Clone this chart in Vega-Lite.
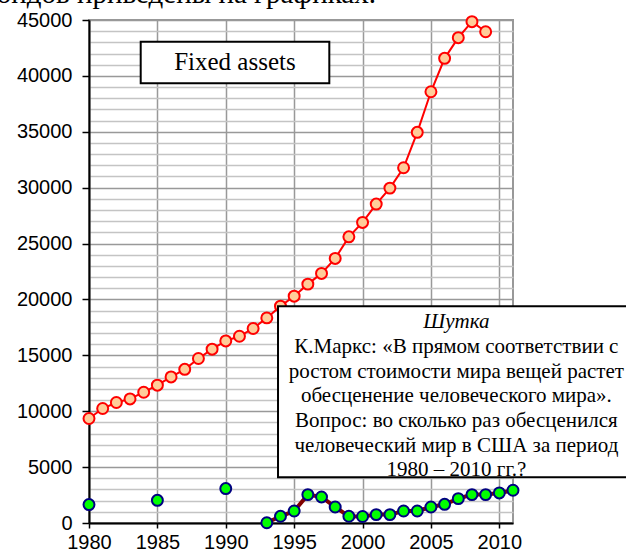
{
  "$schema": "https://vega.github.io/schema/vega-lite/v6.json",
  "autosize": {"type": "none"},
  "width": 424,
  "height": 503,
  "padding": {"left": 89, "top": 20, "right": 113, "bottom": 35},
  "background": "white",
  "view": {"stroke": "#999999", "strokeWidth": 2},
  "config": {"axis": {"labelOverlap": false}},
  "title": {
    "text": "фондов приведены на графиках.",
    "anchor": "start",
    "frame": "group",
    "font": "Liberation Serif",
    "fontSize": 29,
    "fontWeight": "normal",
    "color": "black",
    "baseline": "alphabetic",
    "dx": -111,
    "offset": -22
  },
  "datasets": {
    "series": [
      {"year": 1980, "value": 9350, "series": "Fixed assets"},
      {"year": 1981, "value": 10240, "series": "Fixed assets"},
      {"year": 1982, "value": 10780, "series": "Fixed assets"},
      {"year": 1983, "value": 11100, "series": "Fixed assets"},
      {"year": 1984, "value": 11700, "series": "Fixed assets"},
      {"year": 1985, "value": 12330, "series": "Fixed assets"},
      {"year": 1986, "value": 13070, "series": "Fixed assets"},
      {"year": 1987, "value": 13750, "series": "Fixed assets"},
      {"year": 1988, "value": 14715, "series": "Fixed assets"},
      {"year": 1989, "value": 15550, "series": "Fixed assets"},
      {"year": 1990, "value": 16290, "series": "Fixed assets"},
      {"year": 1991, "value": 16710, "series": "Fixed assets"},
      {"year": 1992, "value": 17400, "series": "Fixed assets"},
      {"year": 1993, "value": 18350, "series": "Fixed assets"},
      {"year": 1994, "value": 19400, "series": "Fixed assets"},
      {"year": 1995, "value": 20290, "series": "Fixed assets"},
      {"year": 1996, "value": 21370, "series": "Fixed assets"},
      {"year": 1997, "value": 22330, "series": "Fixed assets"},
      {"year": 1998, "value": 23670, "series": "Fixed assets"},
      {"year": 1999, "value": 25600, "series": "Fixed assets"},
      {"year": 2000, "value": 26890, "series": "Fixed assets"},
      {"year": 2001, "value": 28530, "series": "Fixed assets"},
      {"year": 2002, "value": 29960, "series": "Fixed assets"},
      {"year": 2003, "value": 31780, "series": "Fixed assets"},
      {"year": 2004, "value": 34950, "series": "Fixed assets"},
      {"year": 2005, "value": 38580, "series": "Fixed assets"},
      {"year": 2006, "value": 41570, "series": "Fixed assets"},
      {"year": 2007, "value": 43420, "series": "Fixed assets"},
      {"year": 2008, "value": 44850, "series": "Fixed assets"},
      {"year": 2009, "value": 43950, "series": "Fixed assets"},
      {"year": 1980, "value": 1650, "series": "Other"},
      {"year": 1985, "value": 2030, "series": "Other"},
      {"year": 1990, "value": 3080, "series": "Other"},
      {"year": 1993, "value": 20, "series": "Other"},
      {"year": 1994, "value": 600, "series": "Other"},
      {"year": 1995, "value": 1070, "series": "Other"},
      {"year": 1996, "value": 2540, "series": "Other"},
      {"year": 1997, "value": 2330, "series": "Other"},
      {"year": 1998, "value": 1430, "series": "Other"},
      {"year": 1999, "value": 600, "series": "Other"},
      {"year": 2000, "value": 580, "series": "Other"},
      {"year": 2001, "value": 750, "series": "Other"},
      {"year": 2002, "value": 750, "series": "Other"},
      {"year": 2003, "value": 1070, "series": "Other"},
      {"year": 2004, "value": 1070, "series": "Other"},
      {"year": 2005, "value": 1430, "series": "Other"},
      {"year": 2006, "value": 1670, "series": "Other"},
      {"year": 2007, "value": 2180, "series": "Other"},
      {"year": 2008, "value": 2540, "series": "Other"},
      {"year": 2009, "value": 2540, "series": "Other"},
      {"year": 2010, "value": 2690, "series": "Other"},
      {"year": 2011, "value": 2930, "series": "Other"}
    ],
    "boxes": [
      {"name": "legend", "year": 1983.78, "year2": 1997.57, "value": 39335, "value2": 43059},
      {"name": "joke", "year": 1993.82, "year2": 2022, "value": 4091, "value2": 19399}
    ]
  },
  "encoding": {
    "x": {
      "field": "year", "type": "quantitative",
      "scale": {"domain": [1980, 2011], "nice": false, "zero": false},
      "axis": {
        "title": null,
        "values": [1980, 1985, 1990, 1995, 2000, 2005, 2010],
        "format": "d",
        "labelFont": "Liberation Sans",
        "labelFontSize": 20,
        "labelColor": "black",
        "labelPadding": 4,
        "labelFlush": false,
        "labelOverlap": false,
        "tickSize": 5,
        "tickColor": "black",
        "tickWidth": 1.5,
        "domainColor": "black",
        "domainWidth": 2,
        "gridColor": "#999999",
        "gridWidth": 1.5,
        "gridOpacity": 1
      }
    },
    "y": {
      "field": "value", "type": "quantitative",
      "scale": {"domain": [0, 45000], "nice": false},
      "axis": {
        "title": null,
        "values": [0,1000,2000,3000,4000,5000,6000,7000,8000,9000,10000,11000,12000,13000,14000,15000,16000,17000,18000,19000,20000,21000,22000,23000,24000,25000,26000,27000,28000,29000,30000,31000,32000,33000,34000,35000,36000,37000,38000,39000,40000,41000,42000,43000,44000,45000],
        "format": "d",
        "labelExpr": "datum.value % 5000 === 0 ? datum.label : ''",
        "labelOverlap": false,
        "labelFlush": false,
        "labelFont": "Liberation Sans",
        "labelFontSize": 20,
        "labelColor": "black",
        "labelPadding": 10,
        "tickSize": 7,
        "tickColor": "black",
        "tickWidth": 1.5,
        "tickOpacity": {"condition": {"test": "datum.value % 5000 === 0", "value": 1}, "value": 0},
        "domainColor": "black",
        "domainWidth": 2,
        "gridColor": {"condition": {"test": "datum.value % 5000 === 0", "value": "#999999"}, "value": "#c4c4c4"},
        "gridWidth": 1.5,
        "gridOpacity": 1
      }
    }
  },
  "layer": [
    {
      "data": {"name": "series"},
      "transform": [{"filter": "datum.series === 'Fixed assets'"}],
      "mark": {"type": "line", "color": "#ff0000", "strokeWidth": 2}
    },
    {
      "data": {"name": "series"},
      "transform": [{"filter": "datum.series === 'Fixed assets'"}],
      "mark": {"type": "point", "shape": "circle", "filled": true, "fill": "#ffcc99", "stroke": "#ff0000", "strokeWidth": 2, "size": 120, "opacity": 1}
    },
    {
      "data": {"name": "series"},
      "transform": [{"filter": "datum.series === 'Other' && datum.year >= 1993"}],
      "mark": {"type": "line", "color": "#800000", "strokeWidth": 4}
    },
    {
      "data": {"name": "series"},
      "transform": [{"filter": "datum.series === 'Other'"}],
      "mark": {"type": "point", "shape": "circle", "filled": true, "fill": "#00ff00", "stroke": "#000080", "strokeWidth": 2, "size": 120, "opacity": 1}
    },
    {
      "data": {"name": "boxes"},
      "mark": {"type": "rect", "fill": "white", "stroke": "black", "strokeWidth": 2, "clip": false},
      "encoding": {
        "x2": {"field": "year2"},
        "y2": {"field": "value2"}
      }
    },
    {
      "data": {"values": [{"label": "Fixed assets", "year": 1990.67, "value": 41200}]},
      "mark": {"type": "text", "font": "Liberation Serif", "fontSize": 25, "color": "black", "align": "center", "baseline": "middle"},
      "encoding": {"text": {"field": "label"}}
    },
    {
      "data": {"values": [{"label": "Шутка", "year": 2006.86, "value": 17967}]},
      "mark": {"type": "text", "font": "Liberation Serif", "fontSize": 21, "fontStyle": "italic", "color": "black", "align": "center", "baseline": "middle"},
      "encoding": {"text": {"field": "label"}}
    },
    {
      "data": {"values": [{"label": "К.Маркс: «В прямом соответствии с\nростом стоимости мира вещей растет\nобесценение человеческого мира».\nВопрос: во сколько раз обесценился\nчеловеческий мир в США за период\n1980 – 2010 гг.?", "year": 2006.86, "value": 15729}]},
      "mark": {"type": "text", "font": "Liberation Serif", "fontSize": 21, "lineBreak": "\n", "lineHeight": 24.6, "color": "black", "align": "center", "baseline": "middle"},
      "encoding": {"text": {"field": "label"}}
    }
  ]
}
